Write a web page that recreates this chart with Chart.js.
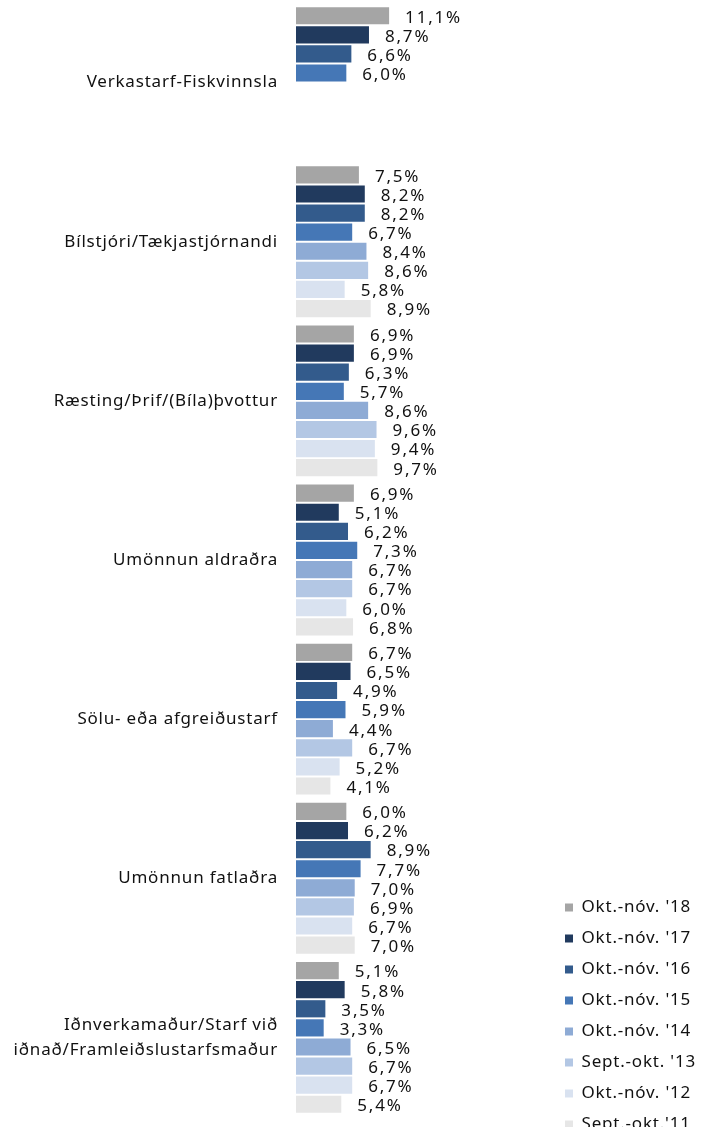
<!DOCTYPE html>
<html>
<head>
<meta charset="utf-8">
<script src="https://cdn.jsdelivr.net/npm/chart.js@4/dist/chart.umd.min.js"></script>
<style>
  html, body { margin: 0; padding: 0; background: #fff; }
  #wrap { width: 706px; height: 1127px; }
</style>
</head>
<body>
<div id="wrap"><canvas id="c"></canvas></div>
<script>
// flokkar (störf)
const categories = [
  'Verkastarf-Fiskvinnsla',
  'Bílstjóri/Tækjastjórnandi',
  'Ræsting/Þrif/(Bíla)þvottur',
  'Umönnun aldraðra',
  'Sölu- eða afgreiðustarf',
  'Umönnun fatlaðra',
  ['Iðnverkamaður/Starf við', 'iðnað/Framleiðslustarfsmaður']
];

const seriesNames = [
  "Okt.-nóv. '18", "Okt.-nóv. '17", "Okt.-nóv. '16", "Okt.-nóv. '15",
  "Okt.-nóv. '14", "Sept.-okt. '13", "Okt.-nóv. '12", "Sept.-okt.'11"
];
const seriesColors = ['#a5a5a5', '#213a5e', '#335b8c', '#4577b6', '#8eabd5', '#b3c7e4', '#d9e2f0', '#e6e6e6'];

// gildi í % eftir tímabilum
const okt18 = [11.1, 7.5, 6.9, 6.9, 6.7, 6.0, 5.1];
const okt17 = [8.7, 8.2, 6.9, 5.1, 6.5, 6.2, 5.8];
const okt16 = [6.6, 8.2, 6.3, 6.2, 4.9, 8.9, 3.5];
const okt15 = [6.0, 6.7, 5.7, 7.3, 5.9, 7.7, 3.3];
const okt14 = [null, 8.4, 8.6, 6.7, 4.4, 7.0, 6.5];
const sept13 = [null, 8.6, 9.6, 6.7, 6.7, 6.9, 6.7];
const okt12 = [null, 5.8, 9.4, 6.0, 5.2, 6.7, 6.7];
const sept11 = [null, 8.9, 9.7, 6.8, 4.1, 7.0, 5.4];
const allSeries = [okt18, okt17, okt16, okt15, okt14, sept13, okt12, sept11];

const FONT = 'Noto Sans';
const SPACING = '0.8px';

// stafabil eins og í Excel-myndinni
const spacing = {
  id: 'spacing',
  beforeLayout(chart) { chart.ctx.letterSpacing = SPACING; },
  beforeDraw(chart) { chart.ctx.letterSpacing = SPACING; },
  afterLayout(chart) {
    // færa skýringar neðar, alveg niður í horn
    const lg = chart.legend;
    lg.top += 30;
    lg.bottom += 30;
  }
};

// merkingar við enda súlna
const valueLabels = {
  id: 'valueLabels',
  afterDatasetsDraw(chart) {
    const ctx = chart.ctx;
    ctx.save();
    ctx.letterSpacing = '1.8px';
    ctx.font = '17px "' + FONT + '"';
    ctx.fillStyle = '#111';
    ctx.textBaseline = 'middle';
    ctx.textAlign = 'left';
    chart.data.datasets.forEach((ds, i) => {
      const meta = chart.getDatasetMeta(i);
      meta.data.forEach((bar, j) => {
        const v = ds.data[j];
        if (v === null) return;
        ctx.fillText(v.toFixed(1).replace('.', ',') + '%', bar.x + 16, bar.y + 2);
      });
    });
    ctx.restore();
  }
};

new Chart(document.getElementById('c'), {
  type: 'bar',
  data: {
    labels: categories,
    datasets: allSeries.map((d, i) => ({
      label: seriesNames[i],
      data: d,
      backgroundColor: seriesColors[i],
      borderWidth: 0,
      barPercentage: 0.9,
      categoryPercentage: 0.96
    }))
  },
  options: {
    indexAxis: 'y',
    responsive: true,
    maintainAspectRatio: false,
    animation: false,
    layout: { padding: { top: 3, right: 0, bottom: 10, left: 0 } },
    plugins: {
      tooltip: { enabled: false },
      legend: {
        position: 'right',
        align: 'end',
        labels: {
          font: { family: FONT, size: 17 },
          color: '#111',
          boxWidth: 8,
          boxHeight: 8,
          padding: 14
        }
      }
    },
    scales: {
      x: {
        min: 0,
        max: 30.4,
        display: false
      },
      y: {
        grid: { display: false },
        border: { display: false },
        afterFit(scale) {
          scale.width = 296;
          scale.paddingTop = 0;
          scale.paddingBottom = 0;
        },
        ticks: {
          color: '#111',
          font: { family: FONT, size: 17, lineHeight: 1.5 },
          padding: 10
        }
      }
    }
  },
  plugins: [spacing, valueLabels]
});
</script>
</body>
</html>
